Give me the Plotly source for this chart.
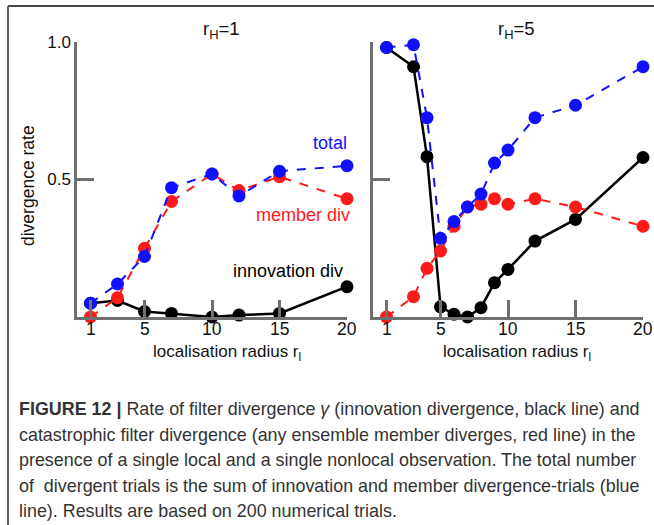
import plotly.graph_objects as go

# localisation radius values and divergence rates, r_H = 1
r_left = [1, 3, 5, 7, 10, 12, 15, 20]
total_left = [0.05, 0.12, 0.22, 0.47, 0.52, 0.44, 0.53, 0.55]
member_left = [0.0, 0.07, 0.25, 0.42, 0.52, 0.46, 0.51, 0.43]
innov_left = [0.05, 0.06, 0.02, 0.013, 0.0, 0.007, 0.013, 0.11]

# r_H = 5
r_right = [1, 3, 4, 5, 6, 7, 8, 9, 10, 12, 15, 20]
total_right = [0.98, 0.99, 0.725, 0.286, 0.347, 0.40, 0.447, 0.56, 0.607, 0.725, 0.77, 0.91]
member_right = [0.0, 0.074, 0.177, 0.24, 0.33, 0.40, 0.41, 0.43, 0.41, 0.43, 0.40, 0.33]
innov_right = [0.98, 0.91, 0.583, 0.037, 0.01, 0.0, 0.034, 0.125, 0.173, 0.276, 0.355, 0.58]

x_ticks = [1, 5, 10, 15, 20]
y_ticks = [0.5, 1.0]
y_ticktext = ["0.5", "1.0"]

caption_lines = [
    "<b>FIGURE 12 |</b> Rate of filter divergence <i>γ</i> (innovation divergence, black line) and",
    "catastrophic filter divergence (any ensemble member diverges, red line) in the",
    "presence of a single local and a single nonlocal observation. The total number",
    "of  divergent trials is the sum of innovation and member divergence-trials (blue",
    "line). Results are based on 200 numerical trials.",
]

W, H = 654, 525
FONT = "Liberation Sans, Arial, sans-serif"
BLUE = "#1010ff"
RED = "#ff1a1a"
BLACK = "#000000"
AXIS = "#707070"


def px(x):
    return x / W


def py(y):
    return 1 - y / H


fig = go.Figure()


def add_panel(xa, ya, r, total, member, innov):
    common = dict(x=r, xaxis=xa, yaxis=ya, mode="lines+markers", cliponaxis=False,
                  showlegend=False, hoverinfo="skip")
    fig.add_trace(go.Scatter(y=innov, line=dict(color=BLACK, width=2.5),
                             marker=dict(color=BLACK, size=13), **common))
    fig.add_trace(go.Scatter(y=member, line=dict(color=RED, width=2, dash="dash"),
                             marker=dict(color=RED, size=13), **common))
    fig.add_trace(go.Scatter(y=total, line=dict(color=BLUE, width=2, dash="dash"),
                             marker=dict(color=BLUE, size=13), **common))


add_panel("x", "y", r_left, total_left, member_left, innov_left)
add_panel("x2", "y2", r_right, total_right, member_right, innov_right)

axis_style = dict(showline=True, linecolor=AXIS, linewidth=2.5, ticks="inside",
                  ticklen=17, tickwidth=2.5, tickcolor=AXIS, showgrid=False,
                  zeroline=False, automargin=False,
                  tickfont=dict(family=FONT, size=17, color="#111"))

y_dom = [py(317), py(42)]
fig.update_layout(
    template="none",
    width=W, height=H, margin=dict(l=0, r=0, t=0, b=0, pad=0),
    paper_bgcolor="white", plot_bgcolor="white",
    xaxis=dict(domain=[px(77), px(347)], range=[0, 20], tickvals=x_ticks,
               showticklabels=False, anchor="y", **axis_style),
    xaxis2=dict(domain=[px(373), px(643)], range=[0, 20], tickvals=x_ticks,
                showticklabels=False, anchor="y2", **axis_style),
    yaxis=dict(domain=y_dom, range=[0, 1], tickvals=y_ticks, ticktext=y_ticktext,
               anchor="x", **axis_style),
    yaxis2=dict(domain=y_dom, range=[0, 1], tickvals=y_ticks, showticklabels=False,
                anchor="x2", **axis_style),
)

ann = []


def text(x, y, s, size=18, color="#111", xanchor="center", yanchor="middle", angle=0,
         xref="paper"):
    ann.append(dict(x=x if xref != "paper" else px(x), y=py(y), xref=xref, yref="paper",
                    text=s, showarrow=False, xanchor=xanchor, yanchor=yanchor,
                    textangle=angle, borderpad=0,
                    font=dict(family=FONT, size=size, color=color)))


# x tick labels, placed on each panel's own x scale
for xr in ("x", "x2"):
    for v in x_ticks:
        text(v, 329, str(v), size=17.5, xref=xr)

# panel titles
text(221, 30, "r<sub>H</sub>=1", size=18.5)
text(516, 30, "r<sub>H</sub>=5", size=18.5)
# axis titles
text(227, 353, "localisation radius r<sub>l</sub>", size=17)
text(517, 353, "localisation radius r<sub>l</sub>", size=17)
text(28, 186, "divergence rate", size=17.5, angle=-90)
# series labels
text(348, 143, "total", color=BLUE, xanchor="right")
text(351, 215, "member div", color=RED, xanchor="right")
text(344, 271, "innovation div", color=BLACK, xanchor="right")

# caption
for i, line in enumerate(caption_lines):
    text(18, 409 + i * 25.6, line, size=17.9, color="#333", xanchor="left")

fig.update_layout(annotations=ann)

# frame around the figure
fig.add_shape(type="line", xref="paper", yref="paper", x0=px(8), x1=1, y0=py(6), y1=py(6),
              line=dict(color="#444", width=2))
fig.add_shape(type="line", xref="paper", yref="paper", x0=px(8), x1=px(8), y0=py(6), y1=0,
              line=dict(color="#666", width=2))

fig.write_html("out.html")
